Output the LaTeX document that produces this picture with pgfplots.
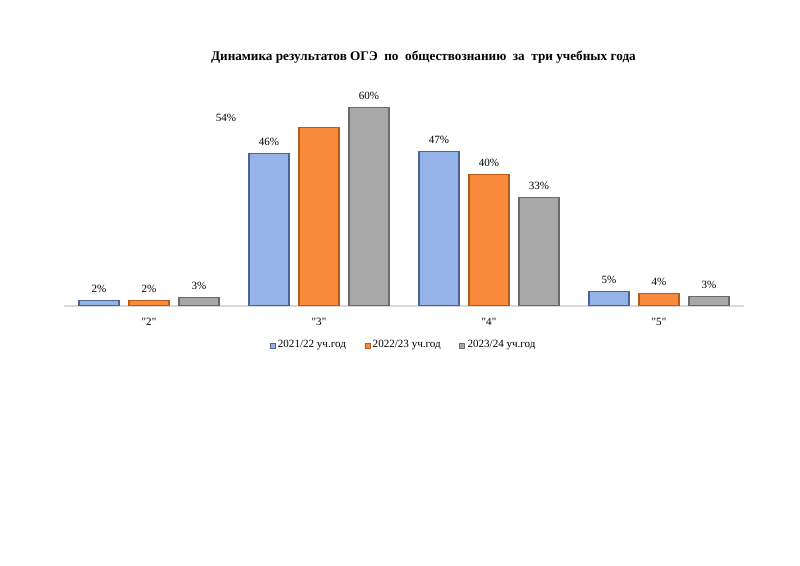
\documentclass[border=0pt]{standalone}
\usepackage{fontspec}
\setmainfont{Liberation Serif}
\usepackage{pgfplots}
\pgfplotsset{compat=1.18}
\definecolor{cblue}{HTML}{95B3E8}
\definecolor{cbluedk}{HTML}{4A6496}
\definecolor{corange}{HTML}{FA8A3C}
\definecolor{corangedk}{HTML}{B85A18}
\definecolor{cgray}{HTML}{A8A8A8}
\definecolor{cgraydk}{HTML}{6A6A6A}
\definecolor{caxis}{HTML}{D9D9D9}
\newcommand{\q}[1]{\textquotedbl#1\textquotedbl}
\begin{document}
\begin{tikzpicture}
\path[use as bounding box] (0,0) rectangle (600pt,424.5pt);
\node[font=\fontsize{9.9}{11}\selectfont\bfseries] at (317.6pt,381.75pt)
  {Динамика результатов ОГЭ~~по~~обществознанию~~за~~три учебных года};
\begin{axis}[
  at={(48pt,195pt)}, anchor=south west,
  scale only axis, width=510pt, height=173.25pt,
  xmin=-0.5, xmax=3.5, ymin=0, ymax=70,
  axis x line*=bottom, axis y line=none,
  x axis line style={draw=caxis, line width=0.8pt, -},
  ybar=7.5pt, bar width=30pt,
  xtick={0,1,2,3}, xticklabels={\q{2},\q{3},\q{4},\q{5}},
  major tick length=0pt,
  xticklabel style={font=\fontsize{8.3}{10}\selectfont, yshift=-5.5pt},
  point meta=explicit symbolic,
  nodes near coords,
  every node near coord/.append style={font=\fontsize{8.3}{10}\selectfont, yshift=2pt, text=black},
  legend columns=3,
  legend style={at={(0.5,-0.17)}, anchor=center, draw=none, fill=none,
    font=\fontsize{8.3}{10}\selectfont,
    /tikz/every even column/.append style={column sep=12pt}},
  legend image code/.code={\draw[#1, line width=0.3pt] (0pt,-1.9pt) rectangle (3.8pt,1.9pt);},
]
\addplot[fill=cblue, draw=cbluedk, line width=0.8pt] coordinates
  {(0,1.6) [2\%] (1,46.2) [46\%] (2,46.8) [47\%] (3,4.4) [5\%]};
\addplot[fill=corange, draw=corangedk, line width=0.8pt] coordinates
  {(0,1.6) [2\%] (1,54) [\mbox{}] (2,39.8) [40\%] (3,3.7) [4\%]};
\addplot[fill=cgray, draw=cgraydk, line width=0.8pt] coordinates
  {(0,2.7) [3\%] (1,60.2) [60\%] (2,33) [33\%] (3,2.8) [3\%]};
\legend{2021/22 уч.год, 2022/23 уч.год, 2023/24 уч.год}
\node[font=\fontsize{8.3}{10}\selectfont] at (axis cs:0.453,57) {54\%};
\end{axis}
\end{tikzpicture}
\end{document}
